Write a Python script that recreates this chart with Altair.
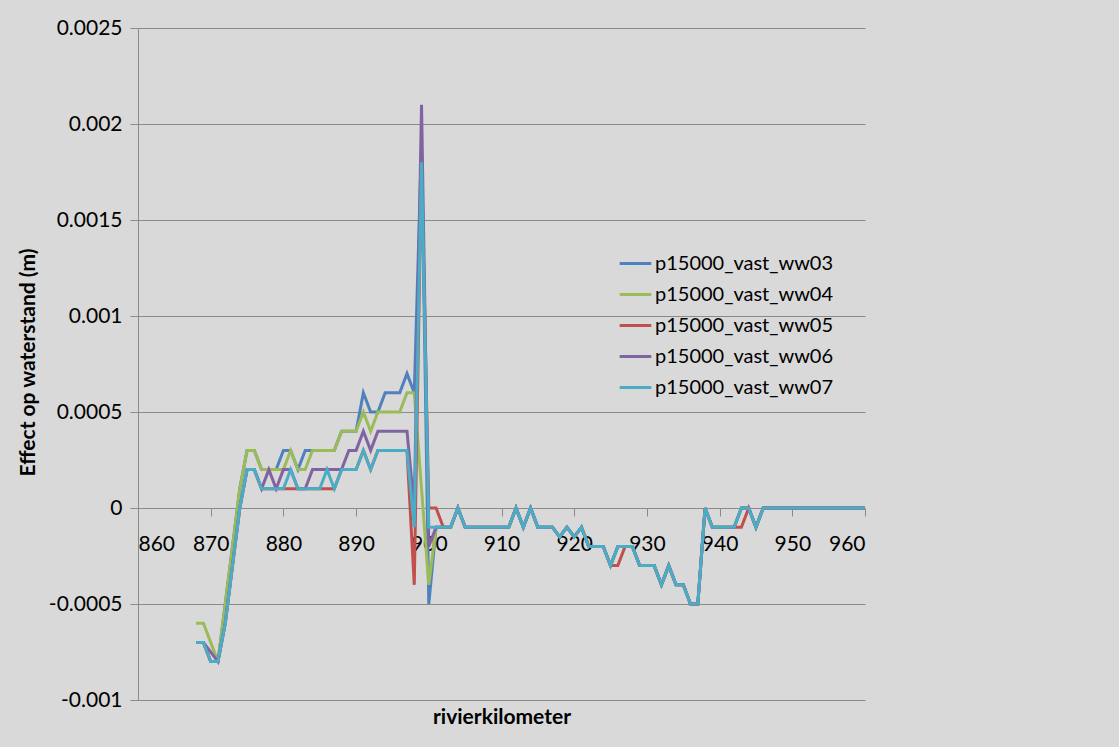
import altair as alt
import pandas as pd

# River kilometre stations (1 km spacing)
km = list(range(868, 961))

# Effect on water level (m) per scenario, one value per kilometre 868..960
ww03 = [
    -0.0007, -0.0007, -0.0008, -0.0008, -0.0005, -0.0002, 0.0001, 0.0003, 0.0003, 0.0002,   # 868-877
    0.0002, 0.0002, 0.0003, 0.0003, 0.0002, 0.0003, 0.0003, 0.0003, 0.0003, 0.0003,          # 878-887
    0.0004, 0.0004, 0.0004, 0.0006, 0.0005, 0.0005, 0.0006, 0.0006, 0.0006, 0.0007,          # 888-897
    0.0006, 0.0019, -0.0005, -0.0001, -0.0001, -0.0001, 0.0000, -0.0001, -0.0001, -0.0001,   # 898-907
    -0.0001, -0.0001, -0.0001, -0.0001, 0.0000, -0.0001, 0.0000, -0.0001, -0.0001, -0.0001,  # 908-917
    -0.00015, -0.0001, -0.00015, -0.0001, -0.0002, -0.0002, -0.0002, -0.0003, -0.0002, -0.0002,  # 918-927
    -0.0002, -0.0003, -0.0003, -0.0003, -0.0004, -0.0003, -0.0004, -0.0004, -0.0005, -0.0005,  # 928-937
    0.0000, -0.0001, -0.0001, -0.0001, -0.0001, 0.0000, 0.0000, -0.0001, 0.0000, 0.0000,     # 938-947
    0.0000, 0.0000, 0.0000, 0.0000, 0.0000, 0.0000, 0.0000, 0.0000, 0.0000, 0.0000,          # 948-957
    0.0000, 0.0000, 0.0000,                                                                  # 958-960
]
ww04 = [
    -0.0006, -0.0006, -0.0007, -0.0008, -0.0005, -0.0002, 0.0001, 0.0003, 0.0003, 0.0002,
    0.0002, 0.0002, 0.0002, 0.0003, 0.0002, 0.0002, 0.0003, 0.0003, 0.0003, 0.0003,
    0.0004, 0.0004, 0.0004, 0.0005, 0.0004, 0.0005, 0.0005, 0.0005, 0.0005, 0.0006,
    0.0006, 0.0001, -0.0004, -0.0001, -0.0001, -0.0001, 0.0000, -0.0001, -0.0001, -0.0001,
    -0.0001, -0.0001, -0.0001, -0.0001, 0.0000, -0.0001, 0.0000, -0.0001, -0.0001, -0.0001,
    -0.00015, -0.0001, -0.00015, -0.0001, -0.0002, -0.0002, -0.0002, -0.0003, -0.0002, -0.0002,
    -0.0002, -0.0003, -0.0003, -0.0003, -0.0004, -0.0003, -0.0004, -0.0004, -0.0005, -0.0005,
    0.0000, -0.0001, -0.0001, -0.0001, -0.0001, 0.0000, 0.0000, -0.0001, 0.0000, 0.0000,
    0.0000, 0.0000, 0.0000, 0.0000, 0.0000, 0.0000, 0.0000, 0.0000, 0.0000, 0.0000,
    0.0000, 0.0000, 0.0000,
]
ww05 = [
    -0.0007, -0.0007, -0.0008, -0.0008, -0.0006, -0.0003, 0.0000, 0.0002, 0.0002, 0.0001,
    0.0001, 0.0001, 0.0001, 0.0001, 0.0001, 0.0001, 0.0001, 0.0001, 0.0001, 0.0001,
    0.0002, 0.0002, 0.0002, 0.0003, 0.0002, 0.0003, 0.0003, 0.0003, 0.0003, 0.0003,
    -0.0004, 0.0018, 0.0000, 0.0000, -0.0001, -0.0001, 0.0000, -0.0001, -0.0001, -0.0001,
    -0.0001, -0.0001, -0.0001, -0.0001, 0.0000, -0.0001, 0.0000, -0.0001, -0.0001, -0.0001,
    -0.00015, -0.0001, -0.00015, -0.0001, -0.0002, -0.0002, -0.0002, -0.0003, -0.0003, -0.0002,
    -0.0002, -0.0003, -0.0003, -0.0003, -0.0004, -0.0003, -0.0004, -0.0004, -0.0005, -0.0005,
    0.0000, -0.0001, -0.0001, -0.0001, -0.0001, -0.0001, 0.0000, -0.0001, 0.0000, 0.0000,
    0.0000, 0.0000, 0.0000, 0.0000, 0.0000, 0.0000, 0.0000, 0.0000, 0.0000, 0.0000,
    0.0000, 0.0000, 0.0000,
]
ww06 = [
    -0.0007, -0.0007, -0.00075, -0.0008, -0.0006, -0.0003, 0.0000, 0.0002, 0.0002, 0.0001,
    0.0002, 0.0001, 0.0002, 0.0002, 0.0001, 0.0001, 0.0002, 0.0002, 0.0002, 0.0002,
    0.0002, 0.0003, 0.0003, 0.0004, 0.0003, 0.0004, 0.0004, 0.0004, 0.0004, 0.0004,
    0.0000, 0.0021, -0.0002, -0.0001, -0.0001, -0.0001, 0.0000, -0.0001, -0.0001, -0.0001,
    -0.0001, -0.0001, -0.0001, -0.0001, 0.0000, -0.0001, 0.0000, -0.0001, -0.0001, -0.0001,
    -0.00015, -0.0001, -0.00015, -0.0001, -0.0002, -0.0002, -0.0002, -0.0003, -0.0002, -0.0002,
    -0.0002, -0.0003, -0.0003, -0.0003, -0.0004, -0.0003, -0.0004, -0.0004, -0.0005, -0.0005,
    0.0000, -0.0001, -0.0001, -0.0001, -0.0001, 0.0000, 0.0000, -0.0001, 0.0000, 0.0000,
    0.0000, 0.0000, 0.0000, 0.0000, 0.0000, 0.0000, 0.0000, 0.0000, 0.0000, 0.0000,
    0.0000, 0.0000, 0.0000,
]
ww07 = [
    -0.0007, -0.0007, -0.0008, -0.0008, -0.0006, -0.0003, 0.0000, 0.0002, 0.0002, 0.0001,
    0.0001, 0.0001, 0.0001, 0.0002, 0.0001, 0.0001, 0.0001, 0.0001, 0.0002, 0.0001,
    0.0002, 0.0002, 0.0002, 0.0003, 0.0002, 0.0003, 0.0003, 0.0003, 0.0003, 0.0003,
    -0.0001, 0.0018, -0.0001, -0.0001, -0.0001, -0.0001, 0.0000, -0.0001, -0.0001, -0.0001,
    -0.0001, -0.0001, -0.0001, -0.0001, 0.0000, -0.0001, 0.0000, -0.0001, -0.0001, -0.0001,
    -0.00015, -0.0001, -0.00015, -0.0001, -0.0002, -0.0002, -0.0002, -0.0003, -0.0002, -0.0002,
    -0.0002, -0.0003, -0.0003, -0.0003, -0.0004, -0.0003, -0.0004, -0.0004, -0.0005, -0.0005,
    0.0000, -0.0001, -0.0001, -0.0001, -0.0001, 0.0000, 0.0000, -0.0001, 0.0000, 0.0000,
    0.0000, 0.0000, 0.0000, 0.0000, 0.0000, 0.0000, 0.0000, 0.0000, 0.0000, 0.0000,
    0.0000, 0.0000, 0.0000,
]

series_names = ["p15000_vast_ww03", "p15000_vast_ww04", "p15000_vast_ww05",
                "p15000_vast_ww06", "p15000_vast_ww07"]
series_values = [ww03, ww04, ww05, ww06, ww07]
series_colors = ["#4F81BD", "#9BBB59", "#C0504D", "#8064A2", "#4BACC6"]

x_ticks = list(range(860, 961, 10))
y_ticks = [-0.001, -0.0005, 0, 0.0005, 0.001, 0.0015, 0.002, 0.0025]
y_min, y_max = -0.001, 0.0025

rows = []
for order, (name, vals) in enumerate(zip(series_names, series_values)):
    for k, v in zip(km, vals):
        rows.append({"km": k, "effect": v, "series": name, "order": order})
df = pd.DataFrame(rows)

W, H = 727, 672
FONT = "Lato"
GRID = "#8a8a8a"
# the category axis crosses the value axis at zero
x_axis_offset = -H * (0 - y_min) / (y_max - y_min)

chart = alt.Chart(df).mark_line(strokeWidth=3).encode(
    x=alt.X(
        "km:Q",
        scale=alt.Scale(domain=[860, 960], nice=False, zero=False),
        axis=alt.Axis(
            values=x_ticks, format="d", grid=False, offset=x_axis_offset,
            domainColor=GRID, tickColor=GRID, tickSize=8, labelPadding=17,
            labelFont=FONT, labelFontSize=21, labelColor="#000000",
            title="rivierkilometer", titleFont=FONT, titleFontSize=21,
            titleFontWeight="bold", titleColor="#000000",
            titleX=W / 2, titleY=209, titleBaseline="middle", titleAlign="center",
        ),
    ),
    y=alt.Y(
        "effect:Q",
        scale=alt.Scale(domain=[y_min, y_max], nice=False),
        axis=alt.Axis(
            values=y_ticks, labelExpr="'' + datum.value", grid=True,
            gridColor=GRID, gridWidth=1, domainColor=GRID, tickColor=GRID,
            tickSize=8, labelPadding=8, labelFont=FONT, labelFontSize=21,
            labelColor="#000000",
            title="Effect op waterstand (m)", titleFont=FONT, titleFontSize=21,
            titleFontWeight="bold", titleColor="#000000", titleAngle=270,
            titleX=-110, titleY=H / 2 - 2, titleBaseline="middle", titleAlign="center",
        ),
    ),
    color=alt.Color(
        "series:N",
        scale=alt.Scale(domain=series_names, range=series_colors),
        legend=alt.Legend(
            title=None, orient="none", legendX=480, legendY=218,
            symbolType="stroke", symbolSize=1000, symbolStrokeWidth=3,
            labelFont=FONT, labelFontSize=20, labelColor="#000000",
            labelOffset=2, rowPadding=3, labelLimit=400,
        ),
    ),
    order=alt.Order("order:Q"),
).properties(
    width=W,
    height=H,
    background="#d9d9d9",
    padding={"left": 138, "top": 28, "right": 1119 - 138 - W, "bottom": 747 - 28 - H},
    autosize=alt.AutoSizeParams(type="none"),
).configure_view(strokeWidth=0)

chart.save("out.html", embed_options={"renderer": "svg", "actions": False})
